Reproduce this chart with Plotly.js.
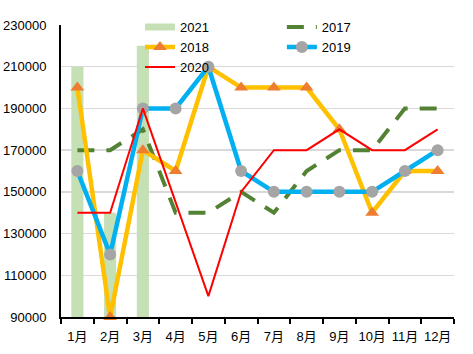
<!DOCTYPE html>
<html>
<head>
<meta charset="utf-8">
<script src="https://cdn.plot.ly/plotly-3.0.1.min.js"></script>
<style>html,body{margin:0;padding:0;background:#fff;}#chart{width:473px;height:354px;}</style>
</head>
<body>
<div id="chart"></div>
<script>
var months = ['1月','2月','3月','4月','5月','6月','7月','8月','9月','10月','11月','12月'];
var v2021 = [210000, 140000, 220000, null, null, null, null, null, null, null, null, null];
var v2017 = [170000, 170000, 180000, 140000, 140000, 150000, 140000, 160000, 170000, 170000, 190000, 190000];
var v2018 = [200000, 90000, 170000, 160000, 210000, 200000, 200000, 200000, 180000, 140000, 160000, 160000];
var v2019 = [160000, 120000, 190000, 190000, 210000, 160000, 150000, 150000, 150000, 150000, 160000, 170000];
var v2020 = [140000, 140000, 190000, 145000, 100000, 150000, 170000, 170000, 180000, 170000, 170000, 180000];
var yTicks = [90000, 110000, 130000, 150000, 170000, 190000, 210000, 230000];

var fontFam = 'Liberation Sans, Noto Sans CJK SC, sans-serif';

var data = [
  {type:'bar', name:'2021', x:months, y:v2021, marker:{color:'#C5E0B4'}, width:0.37, showlegend:false, hoverinfo:'skip'},
  {type:'scatter', mode:'lines', name:'2021', x:[months[0]], y:[null], line:{color:'#C5E0B4', width:7}, showlegend:true, legend:'legend', legendrank:1},
  {type:'scatter', mode:'lines', name:'2017', x:months, y:v2017, line:{color:'#548235', width:4, dash:'17px,12px'}, legend:'legend2', legendrank:1},
  {type:'scatter', mode:'lines+markers', name:'2018', x:months, y:v2018, line:{color:'#FFC000', width:4.5}, marker:{symbol:'triangle-up', size:12, color:'#ED7D31'}, legend:'legend', legendrank:2, cliponaxis:false},
  {type:'scatter', mode:'lines+markers', name:'2019', x:months, y:v2019, line:{color:'#00B0F0', width:4.5}, marker:{symbol:'circle', size:12, color:'#A5A5A5'}, legend:'legend2', legendrank:2},
  {type:'scatter', mode:'lines', name:'2020', x:months, y:v2020, line:{color:'#FF0000', width:2}, legend:'legend', legendrank:3}
];

var legCommon = {orientation:'v', xanchor:'left', yanchor:'top', bgcolor:'rgba(0,0,0,0)', font:{size:13, color:'#000'}, traceorder:'normal', tracegroupgap:0};

var layout = {
  width:473, height:354,
  margin:{l:61, r:19, t:23, b:37},
  paper_bgcolor:'#fff', plot_bgcolor:'#fff',
  font:{family:fontFam, size:13, color:'#000'},
  showlegend:true,
  legend:Object.assign({}, legCommon, {x:0.201, y:1.044}),
  legend2:Object.assign({}, legCommon, {x:0.562, y:1.044}),
  xaxis:{type:'category', categoryorder:'array', categoryarray:months, range:[-0.5, 11.5], autorange:false, showline:true, linecolor:'#000', linewidth:2, ticks:'outside', tickson:'boundaries', ticklen:5, tickwidth:2, tickcolor:'#000', showgrid:false, zeroline:false, tickfont:{size:13}, tickangle:0, ticklabelstandoff:6},
  yaxis:{range:[90000,230000], tickmode:'array', tickvals:yTicks, ticktext:yTicks.map(String), showline:true, linecolor:'#000', linewidth:2, ticks:'', showgrid:true, gridcolor:'#D9D9D9', gridwidth:1.5, zeroline:false, ticklabelstandoff:10, tickfont:{size:13}},
  bargap:0.63
};

Plotly.newPlot('chart', data, layout, {displayModeBar:false, staticPlot:true});
</script>
</body>
</html>
